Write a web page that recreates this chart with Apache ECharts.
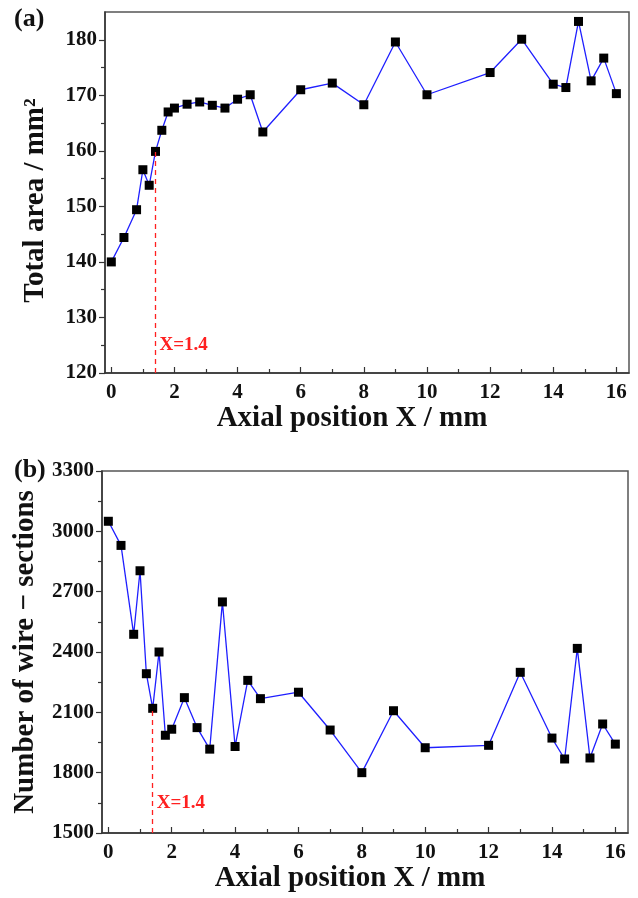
<!DOCTYPE html>
<html><head><meta charset="utf-8">
<script src="https://cdn.jsdelivr.net/npm/echarts@6/dist/echarts.min.js"></script>
<style>html,body{margin:0;padding:0;background:#fff}#c{width:638px;height:898px}</style>
</head><body><div id="c"></div>
<script>
const xPos = [0,0.4,0.8,1.0,1.2,1.4,1.6,1.8,2.0,2.4,2.8,3.2,3.6,4.0,4.4,4.8,6,7,8,9,10,12,13,14,14.4,14.8,15.2,15.6,16];
const totalArea = [140.0,144.4,149.4,156.6,153.8,159.9,163.7,167.0,167.7,168.4,168.8,168.2,167.7,169.3,170.1,163.4,171.0,172.2,168.3,179.6,170.1,174.1,180.1,172.0,171.4,183.3,172.6,176.7,170.3];
const wireSections = [3050,2930,2488,2804,2292,2120,2400,1986,2016,2173,2024,1917,2649,1930,2259,2168,2200,2012,1800,2108,1924,1936,2299,1972,1868,2418,1873,2042,1942];
const xMajor = [0,2,4,6,8,10,12,14,16];
const xMinor = [1,3,5,7,9,11,13,15];
const yTopMajor = [120,130,140,150,160,170,180];
const yTopMinor = [125,135,145,155,165,175];
const yBotMajor = [1500,1800,2100,2400,2700,3000,3300];
const yBotMinor = [1650,1950,2250,2550,2850,3150];
const markX = 1.4;
const markLabel = 'X=1.4';

const FONT = 'Liberation Serif';
const AX = '#333';
function xAxes(gi){
  return [{
    type:'value', gridIndex:gi, position:'bottom', min:-0.2, max:16.4,
    name:'Axial position X / mm', nameLocation:'middle', nameGap:30,
    nameTextStyle:{fontFamily:FONT,fontWeight:'bold',fontSize:29,color:'#111',padding:[0,30,0,0]},
    axisLine:{show:true,onZero:false,lineStyle:{color:AX,width:1.5}},
    axisTick:{show:true,inside:true,length:6,customValues:xMajor,lineStyle:{color:AX,width:1.2}},
    axisLabel:{show:true,customValues:xMajor,margin:9,fontFamily:FONT,fontWeight:'bold',fontSize:21,color:'#111',formatter:v=>String(v)},
    splitLine:{show:false}
  },{
    type:'value', gridIndex:gi, position:'bottom', min:-0.2, max:16.4,
    axisLine:{show:false,onZero:false},
    axisTick:{show:true,inside:true,length:4,customValues:xMinor,lineStyle:{color:AX,width:1.2}},
    axisLabel:{show:false}, splitLine:{show:false}
  }];
}
function yAxes(gi,min,max,major,minor,name,gap,pad){
  return [{
    type:'value', gridIndex:gi, position:'left', min:min, max:max,
    name:name, nameLocation:'middle', nameGap:gap,
    nameTextStyle:{fontFamily:FONT,fontWeight:'bold',fontSize:29,color:'#111',padding:pad},
    axisLine:{show:true,onZero:false,lineStyle:{color:AX,width:1.5}},
    axisTick:{show:true,inside:false,length:6,customValues:major,lineStyle:{color:AX,width:1.2}},
    axisLabel:{show:true,customValues:major,margin:8,fontFamily:FONT,fontWeight:'bold',fontSize:21,color:'#111',formatter:v=>String(v)},
    splitLine:{show:false}
  },{
    type:'value', gridIndex:gi, position:'left', min:min, max:max,
    axisLine:{show:false,onZero:false},
    axisTick:{show:true,inside:false,length:4,customValues:minor,lineStyle:{color:AX,width:1.2}},
    axisLabel:{show:false}, splitLine:{show:false}
  }];
}
function series(xi,yi,vals,labelY,baseY){
  const yAt = vals[xPos.indexOf(markX)];
  return {
    type:'line', xAxisIndex:xi, yAxisIndex:yi,
    data: xPos.map((x,i)=>[x,vals[i]]),
    symbol:'rect', symbolSize:9, showSymbol:true,
    itemStyle:{color:'#000'},
    lineStyle:{color:'#1f1fff',width:1.3},
    animation:false, z:3,
    markLine:{silent:true,symbol:'none',label:{show:false},
      lineStyle:{color:'#ff2020',type:[5,4],width:1.3},
      data:[[{coord:[markX,baseY]},{coord:[markX,yAt]}]]},
    markPoint:{silent:true,symbol:'rect',symbolSize:0,
      data:[{coord:[markX,labelY],label:{show:true,formatter:markLabel,position:'right',distance:4,
        fontFamily:FONT,fontWeight:'bold',fontSize:19,color:'#ff2020'}}]}
  };
}
const chart = echarts.init(document.getElementById('c'),null,{renderer:'canvas'});
chart.setOption({
  animation:false,
  backgroundColor:'#fff',
  grid:[
    {left:105,top:12,width:524,height:361,show:true,borderColor:'#555',borderWidth:1.5},
    {left:102,top:471,width:526,height:362,show:true,borderColor:'#555',borderWidth:1.5}
  ],
  xAxis:[...xAxes(0),...xAxes(1)],
  yAxis:[...yAxes(0,120,185,yTopMajor,yTopMinor,'Total area / mm²',55,[0,16,0,0]),
         ...yAxes(1,1500,3300,yBotMajor,yBotMinor,'Number of wire − sections',62,[0,0,0,0])],
  series:[series(0,0,totalArea,125,120),series(2,2,wireSections,1648,1500)],
  graphic:[
    {type:'text',left:14,top:6,style:{text:'(a)',fontFamily:FONT,fontWeight:'bold',fontSize:26,fill:'#111'}},
    {type:'text',left:14,top:457,style:{text:'(b)',fontFamily:FONT,fontWeight:'bold',fontSize:26,fill:'#111'}}
  ]
});
</script></body></html>
